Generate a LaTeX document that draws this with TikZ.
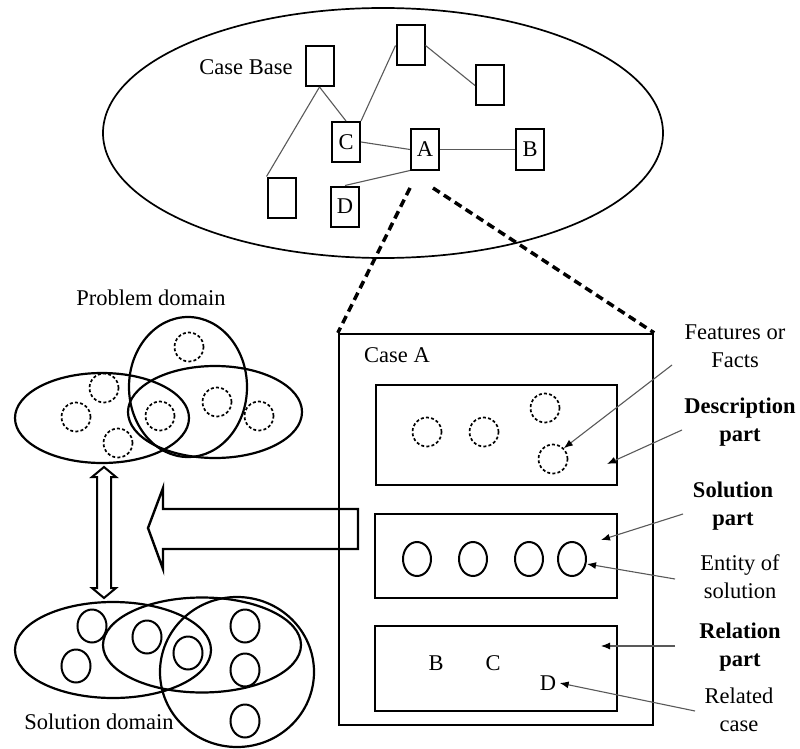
\documentclass[tikz,border=0pt]{standalone}
\usepackage{fontspec}
\setmainfont{Liberation Serif}
\usetikzlibrary{shapes.geometric,arrows.meta}

\begin{document}
\begin{tikzpicture}[x=1pt,y=-1pt,
  font=\fontsize{22.5}{28}\selectfont,
  cbox/.style={draw, line width=2pt, minimum width=28pt, minimum height=40pt, inner sep=0pt},
  link/.style={draw=black!65, line width=1.1pt},
  part/.style={draw, line width=2.3pt, inner sep=0pt},
  feat/.style={circle, draw, dash pattern=on 3pt off 2.2pt, line width=1.7pt, minimum size=29pt, inner sep=0pt},
  entity/.style={ellipse, draw, line width=2pt, minimum width=28pt, minimum height=34pt, inner sep=0pt},
  setshape/.style={ellipse, draw, line width=2.2pt, inner sep=0pt},
  note/.style={align=center, inner sep=0pt},
  pointer/.style={draw=black!65, line width=1.1pt, -{Latex[length=9pt,width=7pt,black]}},
  zoomline/.style={line width=3.5pt, dash pattern=on 8pt off 5pt},
  block/.style={line width=2.4pt, line join=miter}]

\useasboundingbox (0,0) rectangle (800,749);

% ---------- case base ----------
\node[setshape, line width=1.7pt, minimum width=560pt, minimum height=250pt] (cb) at (383,133) {};
\node (cblabel) at (246,67) {Case Base};

\node[cbox] (b1) at (319.5,66) {};
\node[cbox] (b2) at (410.5,45.5) {};
\node[cbox] (b3) at (490,85.5) {};
\node[cbox] (nC) at (346,142) {C};
\node[cbox] (nA) at (425,149.5) {A};
\node[cbox] (nB) at (530,149.5) {B};
\node[cbox] (b4) at (281.5,197.5) {};
\node[cbox] (nD) at (345,206.5) {D};

\draw[link] (b1.south) -- (b4.north west);
\draw[link] (b1.south) -- (nC.north);
\draw[link] (nC.north east) -- (b2.west);
\draw[link] (b2.east) -- (b3.west);
\draw[link] (nC.east) -- (nA.west);
\draw[link] (nA.east) -- (nB.west);
\draw[link] (nA.south west) -- (nD.north);

% ---------- case A ----------
\node[part, minimum width=314pt, minimum height=391pt] (caseA) at (496,529.5) {};
\node (caseAlabel) at (397,355) {Case A};

\coordinate (zl) at (410,188);
\coordinate (zr) at (433,188);
\draw[zoomline] (zl) -- (caseA.north west);
\draw[zoomline] (zr) -- (caseA.north east);

\node[part, minimum width=241pt, minimum height=100pt] (desc) at (496.5,435) {};
\node[part, minimum width=242pt, minimum height=84pt] (sol) at (496,556) {};
\node[part, minimum width=242pt, minimum height=85pt] (rel) at (496,668.5) {};

\node[feat] (f1) at (427,432) {};
\node[feat] (f2) at (484,432) {};
\node[feat] (f3) at (545,408) {};
\node[feat] (f4) at (553,459) {};

\node[entity] (e1) at (417,559) {};
\node[entity] (e2) at (473,559) {};
\node[entity] (e3) at (529,559) {};
\node[entity] (e4) at (572,559) {};

\node (rB) at (436,663) {B};
\node (rC) at (493,663) {C};
\node (rD) at (548,683) {D};

% ---------- side notes ----------
\node[note] (ff) at (735,346) {Features or\\Facts};
\node[note, font=\fontsize{22.5}{28}\selectfont\bfseries] (descl) at (740,422) {Description\\part};
\node[note, font=\fontsize{22.5}{28}\selectfont\bfseries] (soll) at (733,506) {Solution\\part};
\node[note] (entl) at (740,577) {Entity of\\solution};
\node[note, font=\fontsize{22.5}{28}\selectfont\bfseries] (rell) at (740,647) {Relation\\part};
\node[note] (relc) at (739,710) {Related\\case};

\coordinate (ffs) at (672,365);
\coordinate (descs) at (682,430);
\coordinate (desce) at (607,464);
\coordinate (sols) at (683,514);
\coordinate (sole) at (601,540);
\coordinate (ents) at (675,579);
\coordinate (ente) at (587,564);
\coordinate (rels) at (675,646);
\coordinate (rele) at (601,646);
\coordinate (relcs) at (695,711);

\draw[pointer] (ffs) -- (f4.45);
\draw[pointer] (descs) -- (desce);
\draw[pointer] (sols) -- (sole);
\draw[pointer] (ents) -- (ente);
\draw[pointer] (rels) -- (rele);
\draw[pointer] (relcs) -- (rD.east);

% ---------- problem domain ----------
\node (pdlabel) at (151,298) {Problem domain};
\node[setshape, minimum width=174pt, minimum height=90pt] (pL) at (102,418) {};
\node[setshape, minimum width=118pt, minimum height=140pt] (pV) at (188,387) {};
\node[setshape, minimum width=174pt, minimum height=92pt] (pR) at (215,412) {};

\foreach \x/\y [count=\i] in {189/347, 104/388, 76/417, 118/443, 160/416, 217/402, 259/416}
  \node[feat] (p\i) at (\x,\y) {};

% ---------- solution domain ----------
\node[setshape, minimum width=196pt, minimum height=96pt] (sL) at (113,650) {};
\node[setshape, minimum width=198pt, minimum height=95pt] (sM) at (202,645) {};
\node[setshape, minimum width=154pt, minimum height=150pt] (sC) at (237,672) {};

\foreach \x/\y [count=\i] in {92/626, 76/666, 147/637, 188/653, 245/626, 245/670, 245/721}
  \node[entity, minimum width=29pt, minimum height=33pt] (s\i) at (\x,\y) {};

\node (sdlabel) at (99,722) {Solution domain};

% ---------- block arrows ----------
\draw[line width=2pt, line join=miter]
  (104,467) -- (116,477) -- (111,477) -- (111,588) -- (116,588) -- (104,598)
  -- (92,588) -- (97,588) -- (97,477) -- (92,477) -- cycle;

\draw[block]
  (358,509) -- (163,509) -- (163,488) -- (148,528) -- (163,569) -- (163,549)
  -- (358,549) -- cycle;

\end{tikzpicture}
\end{document}
